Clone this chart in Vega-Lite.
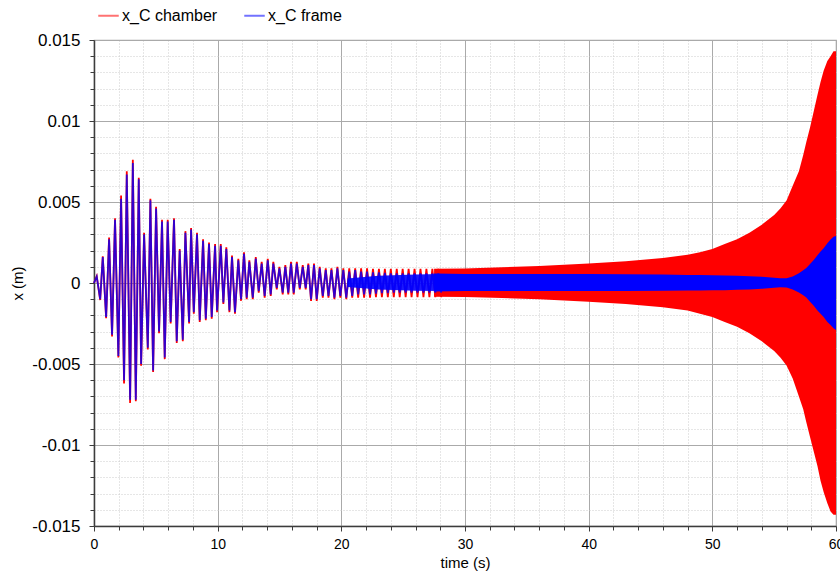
{
  "$schema": "https://vega.github.io/schema/vega-lite/v6.json",
  "width": 742,
  "height": 486,
  "autosize": {"type": "none"},
  "padding": {"left": 94, "top": 40, "right": 4, "bottom": 46},
  "config": {
    "font": "Liberation Sans",
    "view": {"stroke": "#a8a8a8", "strokeWidth": 1.2},
    "axis": {"labelColor": "#000000", "titleColor": "#000000", "titleFontWeight": "normal", "labelFont": "Liberation Sans", "titleFont": "Liberation Sans"}
  },
  "datasets": {
    "trace": [
      {"t": 0, "chamber": 0, "frame": 0},
      {"t": 0.22, "chamber": 0.00042, "frame": 0.0004},
      {"t": 0.5, "chamber": -0.00105, "frame": -0.001},
      {"t": 0.71, "chamber": 0.00165, "frame": 0.0016},
      {"t": 0.98, "chamber": -0.00218, "frame": -0.0021},
      {"t": 1.22, "chamber": 0.0028, "frame": 0.0027},
      {"t": 1.46, "chamber": -0.0033, "frame": -0.0032},
      {"t": 1.7, "chamber": 0.004, "frame": 0.0039},
      {"t": 1.97, "chamber": -0.0046, "frame": -0.0045},
      {"t": 2.19, "chamber": 0.0054, "frame": 0.0052},
      {"t": 2.43, "chamber": -0.0062, "frame": -0.006},
      {"t": 2.65, "chamber": 0.0069, "frame": 0.0067},
      {"t": 2.92, "chamber": -0.0074, "frame": -0.0072},
      {"t": 3.14, "chamber": 0.0076, "frame": 0.0074},
      {"t": 3.38, "chamber": -0.0073, "frame": -0.0072},
      {"t": 3.62, "chamber": 0.0065, "frame": 0.0064},
      {"t": 3.81, "chamber": -0.0051, "frame": -0.005},
      {"t": 4.05, "chamber": 0.0031, "frame": 0.003},
      {"t": 4.35, "chamber": -0.0041, "frame": -0.004},
      {"t": 4.56, "chamber": 0.0052, "frame": 0.0051},
      {"t": 4.78, "chamber": -0.0055, "frame": -0.0054},
      {"t": 5.02, "chamber": 0.0047, "frame": 0.0046},
      {"t": 5.26, "chamber": -0.0031, "frame": -0.003},
      {"t": 5.5, "chamber": 0.0039, "frame": 0.0038},
      {"t": 5.72, "chamber": -0.0047, "frame": -0.0046},
      {"t": 5.96, "chamber": 0.0039, "frame": 0.0038},
      {"t": 6.2, "chamber": -0.0025, "frame": -0.0024},
      {"t": 6.47, "chamber": 0.004, "frame": 0.0039},
      {"t": 6.69, "chamber": -0.0037, "frame": -0.0036},
      {"t": 6.93, "chamber": 0.0021, "frame": 0.002},
      {"t": 7.18, "chamber": -0.0036, "frame": -0.0035},
      {"t": 7.39, "chamber": 0.0032, "frame": 0.0031},
      {"t": 7.69, "chamber": -0.0025, "frame": -0.0024},
      {"t": 7.85, "chamber": 0.0034, "frame": 0.0033},
      {"t": 8.07, "chamber": -0.0019, "frame": -0.0018},
      {"t": 8.33, "chamber": 0.0031, "frame": 0.003},
      {"t": 8.55, "chamber": -0.0024, "frame": -0.0023},
      {"t": 8.82, "chamber": 0.0027, "frame": 0.0026},
      {"t": 9.04, "chamber": -0.0023, "frame": -0.0022},
      {"t": 9.3, "chamber": 0.0025, "frame": 0.0024},
      {"t": 9.52, "chamber": -0.0022, "frame": -0.0021},
      {"t": 9.79, "chamber": 0.0024, "frame": 0.0023},
      {"t": 9.95, "chamber": -0.0018, "frame": -0.0017},
      {"t": 10.25, "chamber": 0.0024, "frame": 0.0023},
      {"t": 10.46, "chamber": -0.0013, "frame": -0.0012},
      {"t": 10.7, "chamber": 0.0022, "frame": 0.0021},
      {"t": 10.95, "chamber": -0.0018, "frame": -0.0017},
      {"t": 11.16, "chamber": 0.0017, "frame": 0.0016},
      {"t": 11.4, "chamber": -0.0019, "frame": -0.0018},
      {"t": 11.67, "chamber": 0.0015, "frame": 0.0014},
      {"t": 11.89, "chamber": -0.0011, "frame": -0.001},
      {"t": 12.13, "chamber": 0.0019, "frame": 0.0018},
      {"t": 12.35, "chamber": -0.001, "frame": -0.0009},
      {"t": 12.56, "chamber": 0.0014, "frame": 0.0013},
      {"t": 12.84, "chamber": -0.001, "frame": -0.0009},
      {"t": 13.08, "chamber": 0.0016, "frame": 0.0015},
      {"t": 13.32, "chamber": -0.0006, "frame": -0.0005},
      {"t": 13.56, "chamber": 0.0013, "frame": 0.0012},
      {"t": 13.8, "chamber": -0.0009, "frame": -0.0008},
      {"t": 14.05, "chamber": 0.0015, "frame": 0.0014},
      {"t": 14.29, "chamber": -0.0008, "frame": -0.0007},
      {"t": 14.5, "chamber": 0.0013, "frame": 0.0012},
      {"t": 14.78, "chamber": -0.0004, "frame": -0.0003},
      {"t": 14.99, "chamber": 0.001, "frame": 0.0009},
      {"t": 15.26, "chamber": -0.0007, "frame": -0.0006},
      {"t": 15.47, "chamber": 0.0011, "frame": 0.001},
      {"t": 15.71, "chamber": -0.0007, "frame": -0.0006},
      {"t": 15.93, "chamber": 0.0013, "frame": 0.0012},
      {"t": 16.15, "chamber": -0.0007, "frame": -0.0006},
      {"t": 16.4, "chamber": 0.0013, "frame": 0.0012},
      {"t": 16.64, "chamber": -0.0004, "frame": -0.0003},
      {"t": 16.88, "chamber": 0.0011, "frame": 0.001},
      {"t": 17.12, "chamber": -0.0004, "frame": -0.0003},
      {"t": 17.33, "chamber": 0.0012, "frame": 0.0011},
      {"t": 17.55, "chamber": -0.0011, "frame": -0.001},
      {"t": 17.79, "chamber": 0.0012, "frame": 0.0011},
      {"t": 18.01, "chamber": -0.0011, "frame": -0.001},
      {"t": 18.25, "chamber": 0.001, "frame": 0.0009},
      {"t": 18.5, "chamber": -0.0009, "frame": -0.0008},
      {"t": 18.74, "chamber": 0.0009, "frame": 0.0008},
      {"t": 18.96, "chamber": -0.0009, "frame": -0.0008},
      {"t": 19.2, "chamber": 0.0009, "frame": 0.0008},
      {"t": 19.44, "chamber": -0.001, "frame": -0.0009},
      {"t": 19.68, "chamber": 0.001, "frame": 0.0009},
      {"t": 19.92, "chamber": -0.0009, "frame": -0.0008},
      {"t": 20.16, "chamber": 0.0009, "frame": 0.0008},
      {"t": 20.4, "chamber": -0.001, "frame": -0.0009},
      {"t": 20.64, "chamber": 0.0009, "frame": 0.0007},
      {"t": 20.88, "chamber": -0.0009, "frame": -0.0008},
      {"t": 21.12, "chamber": 0.0009, "frame": 0.0008},
      {"t": 21.36, "chamber": -0.0009, "frame": -0.0007},
      {"t": 21.6, "chamber": 0.0009, "frame": 0.0007},
      {"t": 21.84, "chamber": -0.0009, "frame": -0.0007},
      {"t": 22.08, "chamber": 0.0009, "frame": 0.0007},
      {"t": 22.32, "chamber": -0.0009, "frame": -0.0007},
      {"t": 22.56, "chamber": 0.00088, "frame": 0.00065},
      {"t": 22.8, "chamber": -0.00088, "frame": -0.00065},
      {"t": 23.04, "chamber": 0.00088, "frame": 0.00065},
      {"t": 23.28, "chamber": -0.00088, "frame": -0.00062},
      {"t": 23.52, "chamber": 0.00088, "frame": 0.00062},
      {"t": 23.76, "chamber": -0.00088, "frame": -0.00062},
      {"t": 24.0, "chamber": 0.00088, "frame": 0.0006},
      {"t": 24.24, "chamber": -0.00088, "frame": -0.0006},
      {"t": 24.48, "chamber": 0.00088, "frame": 0.0006},
      {"t": 24.72, "chamber": -0.00088, "frame": -0.0006},
      {"t": 24.96, "chamber": 0.00088, "frame": 0.0006},
      {"t": 25.2, "chamber": -0.00088, "frame": -0.0006},
      {"t": 25.44, "chamber": 0.00088, "frame": 0.0006},
      {"t": 25.68, "chamber": -0.00088, "frame": -0.0006},
      {"t": 25.92, "chamber": 0.00088, "frame": 0.0006},
      {"t": 26.16, "chamber": -0.00088, "frame": -0.0006},
      {"t": 26.4, "chamber": 0.00088, "frame": 0.0006},
      {"t": 26.64, "chamber": -0.00088, "frame": -0.0006},
      {"t": 26.88, "chamber": 0.00088, "frame": 0.0006},
      {"t": 27.12, "chamber": -0.00088, "frame": -0.0006},
      {"t": 27.36, "chamber": 0.00088, "frame": 0.0006},
      {"t": 27.6, "chamber": -0.00088, "frame": -0.0006},
      {"t": 27.84, "chamber": 0.00088, "frame": 0.0006},
      {"t": 28.08, "chamber": -0.00088, "frame": -0.0006}
    ],
    "envelope": [
      {"t": 27.5, "chamber_lo": -0.00085, "chamber_hi": 0.00088, "frame_lo": -0.00052, "frame_hi": 0.00058},
      {"t": 30, "chamber_lo": -0.00087, "chamber_hi": 0.0009, "frame_lo": -0.0005, "frame_hi": 0.00056},
      {"t": 33, "chamber_lo": -0.00093, "chamber_hi": 0.00097, "frame_lo": -0.0005, "frame_hi": 0.00055},
      {"t": 36, "chamber_lo": -0.001, "chamber_hi": 0.00105, "frame_lo": -0.0005, "frame_hi": 0.00055},
      {"t": 40, "chamber_lo": -0.00115, "chamber_hi": 0.0012, "frame_lo": -0.0005, "frame_hi": 0.00055},
      {"t": 43, "chamber_lo": -0.0013, "chamber_hi": 0.00135, "frame_lo": -0.0005, "frame_hi": 0.00054},
      {"t": 46, "chamber_lo": -0.0015, "chamber_hi": 0.00155, "frame_lo": -0.00048, "frame_hi": 0.00052},
      {"t": 48, "chamber_lo": -0.0017, "chamber_hi": 0.00175, "frame_lo": -0.00047, "frame_hi": 0.0005},
      {"t": 49, "chamber_lo": -0.0019, "chamber_hi": 0.0019, "frame_lo": -0.00046, "frame_hi": 0.00049},
      {"t": 50, "chamber_lo": -0.0021, "chamber_hi": 0.0021, "frame_lo": -0.00045, "frame_hi": 0.00048},
      {"t": 51, "chamber_lo": -0.0024, "chamber_hi": 0.0024, "frame_lo": -0.00044, "frame_hi": 0.00047},
      {"t": 52, "chamber_lo": -0.0027, "chamber_hi": 0.0027, "frame_lo": -0.00042, "frame_hi": 0.00045},
      {"t": 53, "chamber_lo": -0.0031, "chamber_hi": 0.0031, "frame_lo": -0.0004, "frame_hi": 0.00042},
      {"t": 54, "chamber_lo": -0.0036, "chamber_hi": 0.0036, "frame_lo": -0.00036, "frame_hi": 0.00038},
      {"t": 55, "chamber_lo": -0.0042, "chamber_hi": 0.0042, "frame_lo": -0.0003, "frame_hi": 0.00033},
      {"t": 55.5, "chamber_lo": -0.0046, "chamber_hi": 0.0046, "frame_lo": -0.00027, "frame_hi": 0.0003},
      {"t": 56, "chamber_lo": -0.0051, "chamber_hi": 0.0051, "frame_lo": -0.00028, "frame_hi": 0.0003},
      {"t": 56.5, "chamber_lo": -0.0059, "chamber_hi": 0.006, "frame_lo": -0.0004, "frame_hi": 0.0004},
      {"t": 57, "chamber_lo": -0.007, "chamber_hi": 0.0069, "frame_lo": -0.00058, "frame_hi": 0.0006},
      {"t": 57.35, "chamber_lo": -0.0078, "chamber_hi": 0.0079, "frame_lo": -0.00075, "frame_hi": 0.00078},
      {"t": 57.6, "chamber_lo": -0.0086, "chamber_hi": 0.0087, "frame_lo": -0.0009, "frame_hi": 0.00092},
      {"t": 57.9, "chamber_lo": -0.0095, "chamber_hi": 0.0096, "frame_lo": -0.00115, "frame_hi": 0.00117},
      {"t": 58.2, "chamber_lo": -0.0104, "chamber_hi": 0.0106, "frame_lo": -0.0014, "frame_hi": 0.00142},
      {"t": 58.5, "chamber_lo": -0.0113, "chamber_hi": 0.0116, "frame_lo": -0.0017, "frame_hi": 0.00172},
      {"t": 58.75, "chamber_lo": -0.0122, "chamber_hi": 0.0124, "frame_lo": -0.0019, "frame_hi": 0.00195},
      {"t": 59, "chamber_lo": -0.0129, "chamber_hi": 0.0131, "frame_lo": -0.0021, "frame_hi": 0.00215},
      {"t": 59.3, "chamber_lo": -0.0136, "chamber_hi": 0.0137, "frame_lo": -0.0024, "frame_hi": 0.00245},
      {"t": 59.56, "chamber_lo": -0.0141, "chamber_hi": 0.014, "frame_lo": -0.0026, "frame_hi": 0.00268},
      {"t": 59.8, "chamber_lo": -0.0143, "chamber_hi": 0.0143, "frame_lo": -0.0028, "frame_hi": 0.00285},
      {"t": 60, "chamber_lo": -0.0143, "chamber_hi": 0.0143, "frame_lo": -0.0029, "frame_hi": 0.0029}
    ],
    "frameCore": [
      {"t": 20.5, "lo": -0.00025, "hi": 0.00028},
      {"t": 23, "lo": -0.0004, "hi": 0.00045},
      {"t": 26, "lo": -0.00048, "hi": 0.00053},
      {"t": 28, "lo": -0.0005, "hi": 0.00056}
    ]
  },
  "resolve": {"axis": {"x": "independent", "y": "independent"}},
  "layer": [
    {
      "data": {"name": "envelope"},
      "mark": {"type": "area", "color": "#ff0000", "opacity": 1},
      "encoding": {
        "x": {
          "field": "t", "type": "quantitative",
          "scale": {"domain": [0, 60], "nice": false},
          "axis": {"orient": "bottom", "values": [2, 4, 6, 8, 12, 14, 16, 18, 22, 24, 26, 28, 32, 34, 36, 38, 42, 44, 46, 48, 52, 54, 56, 58], "grid": true, "gridColor": "#cccccc", "gridDash": [1, 2], "labels": false, "domain": false, "tickColor": "#3c3c3c", "tickSize": 4, "title": null}
        },
        "y": {
          "field": "chamber_lo", "type": "quantitative",
          "scale": {"domain": [-0.015, 0.015], "nice": false, "zero": false},
          "axis": {"orient": "left", "values": [-0.014, -0.013, -0.012, -0.011, -0.009, -0.008, -0.007, -0.006, -0.004, -0.003, -0.002, -0.001, 0.001, 0.002, 0.003, 0.004, 0.006, 0.007, 0.008, 0.009, 0.011, 0.012, 0.013, 0.014], "grid": true, "gridColor": "#cccccc", "gridDash": [1, 2], "labels": false, "domain": false, "tickColor": "#3c3c3c", "tickSize": 4, "title": null}
        },
        "y2": {"field": "chamber_hi"}
      }
    },
    {
      "data": {"name": "trace"},
      "mark": {"type": "line", "strokeWidth": 1.8},
      "encoding": {
        "x": {
          "field": "t", "type": "quantitative",
          "axis": {"orient": "bottom", "values": [0, 10, 20, 30, 40, 50, 60], "grid": true, "gridColor": "#aaaaaa", "gridWidth": 1, "domainColor": "#3c3c3c", "domainWidth": 1.5, "tickColor": "#3c3c3c", "tickSize": 5, "labelFontSize": 14, "labelPadding": 6, "labelFlush": false, "labelOverlap": false, "title": "time (s)", "titleFontSize": 15, "titlePadding": 4}
        },
        "y": {
          "field": "chamber", "type": "quantitative",
          "axis": {"orient": "left", "values": [-0.015, -0.01, -0.005, 0, 0.005, 0.01, 0.015], "labelExpr": "'' + datum.value", "grid": true, "gridColor": "#aaaaaa", "gridWidth": 1, "domainColor": "#3c3c3c", "domainWidth": 1.5, "tickColor": "#3c3c3c", "tickSize": 5, "labelFontSize": 17, "labelPadding": 9, "labelOverlap": false, "title": "x (m)", "titleFontSize": 15, "titlePadding": 6}
        },
        "color": {
          "datum": "x_C chamber", "type": "nominal",
          "scale": {"domain": ["x_C chamber", "x_C frame"], "range": ["#ff0000", "#0000ff"]},
          "legend": {"orient": "none", "legendX": 3, "legendY": -36, "direction": "horizontal", "title": null, "symbolType": "stroke", "symbolStrokeWidth": 2, "symbolSize": 420, "symbolOpacity": 0.55, "labelFontSize": 16, "labelFont": "Liberation Sans", "labelColor": "#000000", "labelOffset": 2, "columnPadding": 22}
        }
      }
    },
    {
      "data": {"name": "frameCore"},
      "mark": {"type": "area", "color": "#0000ff", "opacity": 0.9},
      "encoding": {
        "x": {"field": "t", "type": "quantitative", "axis": null},
        "y": {"field": "lo", "type": "quantitative", "axis": null},
        "y2": {"field": "hi"}
      }
    },
    {
      "data": {"name": "envelope"},
      "mark": {"type": "area", "color": "#0000ff", "opacity": 1},
      "encoding": {
        "x": {"field": "t", "type": "quantitative", "axis": null},
        "y": {"field": "frame_lo", "type": "quantitative", "axis": null},
        "y2": {"field": "frame_hi"}
      }
    },
    {
      "data": {"name": "trace"},
      "mark": {"type": "line", "strokeWidth": 1.8, "strokeOpacity": 0.8},
      "encoding": {
        "x": {"field": "t", "type": "quantitative", "axis": null},
        "y": {"field": "frame", "type": "quantitative", "axis": null},
        "color": {"datum": "x_C frame", "type": "nominal"}
      }
    }
  ]
}
